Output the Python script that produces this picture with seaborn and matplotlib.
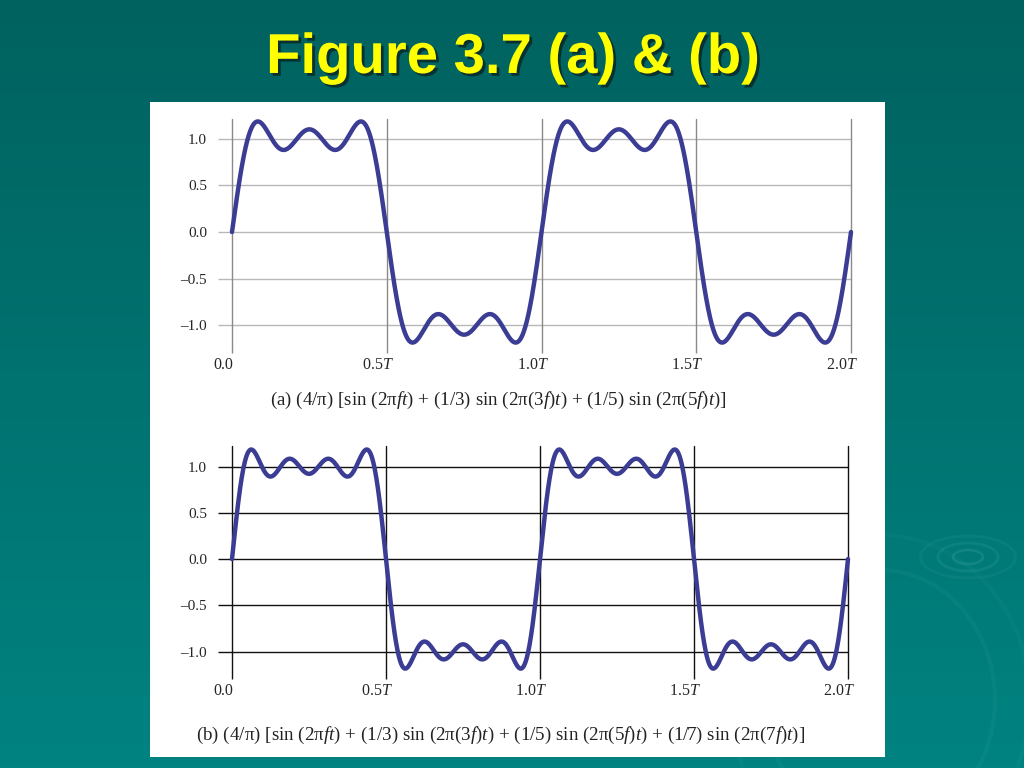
import numpy as np
import pandas as pd
import matplotlib
matplotlib.use("Agg")
import matplotlib.pyplot as plt
import matplotlib.patheffects as pe
import matplotlib.transforms as mtransforms
import seaborn as sns
from matplotlib.patches import Rectangle, Ellipse

# odd harmonics in each partial sum (caption formulas)
harmonics_a = [1, 3, 5]
harmonics_b = [1, 3, 5, 7]
x_ticks = [0.0, 0.5, 1.0, 1.5, 2.0]
x_tick_labels = ["0.0", "0.5$T$", "1.0$T$", "1.5$T$", "2.0$T$"]
y_ticks = [-1.0, -0.5, 0.0, 0.5, 1.0]
y_tick_labels = ["\u20131.0", "\u20130.5", "0.0", "0.5", "1.0"]

title = "Figure 3.7 (a) & (b)"
caption_a = ("(a) (4/\u03c0) [sin (2\u03c0$ft$) + (1/3) sin (2\u03c0(3$f$)$t$) "
             "+ (1/5) sin (2\u03c0(5$f$)$t$)]")
caption_b = ("(b) (4/\u03c0) [sin (2\u03c0$ft$) + (1/3) sin (2\u03c0(3$f$)$t$) "
             "+ (1/5) sin (2\u03c0(5$f$)$t$) + (1/7) sin (2\u03c0(7$f$)$t$)]")

t = np.linspace(0, 2, 1200)  # time in units of T, f = 1/T


def partial_sum(harmonics):
    return (4 / np.pi) * sum(np.sin(2 * np.pi * k * t) / k for k in harmonics)


sns.set_theme(style="white")
plt.rcParams["font.family"] = ["Liberation Serif", "DejaVu Serif"]
plt.rcParams["mathtext.fontset"] = "custom"
plt.rcParams["mathtext.rm"] = "Liberation Serif"
plt.rcParams["mathtext.it"] = "Liberation Serif:italic"

fig = plt.figure(figsize=(10.24, 7.68), dpi=100)

# teal slide background with faint ripples
bg = fig.add_axes([0, 0, 1, 1], zorder=-10)
grad = np.linspace(0, 1, 256).reshape(-1, 1)
cmap = matplotlib.colors.LinearSegmentedColormap.from_list("teal", ["#00625f", "#008381"])
bg.imshow(grad, aspect="auto", cmap=cmap, extent=[0, 1024, 0, 768], origin="upper")
for w, h, a in [(30, 14, 0.18), (60, 28, 0.14), (95, 42, 0.09)]:
    bg.add_patch(Ellipse((968, 768 - 557), w, h, fill=False, ec="#5cbcb8", lw=2, alpha=a))
for w, h, a in [(230, 260, 0.08), (300, 330, 0.06)]:
    bg.add_patch(Ellipse((880, 768 - 700), w, h, fill=False, ec="#5cbcb8", lw=3, alpha=a))
bg.set_xlim(0, 1024)
bg.set_ylim(0, 768)
bg.axis("off")

# white panel holding the two plots
fig.patches.append(Rectangle((150 / 1024, 11 / 768), 735 / 1024, 655 / 768,
                             transform=fig.transFigure, fc="white", ec="none", zorder=-5))

# title with drop shadow
fig.text(513 / 1024, 1 - 59 / 768, title, color="#ffff00", fontsize=40.5,
         fontweight="bold", family="Liberation Sans", ha="center", va="center",
         path_effects=[pe.withSimplePatchShadow(offset=(2, -2), shadow_rgbFace="#0c2424", alpha=0.8)])

panels = [
    (harmonics_a, [232 / 1024, 0.5501, 619 / 1024, 0.2956], "#b8b8b8", "#8a8a8a", caption_a, 498, 400),
    (harmonics_b, [232 / 1024, 0.1251, 616 / 1024, 0.2939], "#111111", "#111111", caption_b, 501, 735),
]

shift = mtransforms.ScaledTranslation(-9 / 100, 0, fig.dpi_scale_trans)

for harmonics, pos, hcol, vcol, caption, cap_x, cap_y in panels:
    ax = fig.add_axes(pos)
    ax.set_facecolor("none")
    df = pd.DataFrame({"t": t, "y": partial_sum(harmonics)})
    sns.lineplot(data=df, x="t", y="y", ax=ax, color="#3a3d93", lw=3.2, clip_on=False, zorder=5)
    ax.set_xlim(0, 2)
    ax.set_ylim(-1.22, 1.22)
    for y in y_ticks:
        ax.axhline(y, color=hcol, lw=1, zorder=1, clip_on=False)
    for x in x_ticks:
        ax.axvline(x, color=vcol, lw=1, zorder=1, clip_on=False)
    ax.set_xticks(x_ticks, x_tick_labels)
    ax.set_yticks(y_ticks, y_tick_labels)
    ax.tick_params(axis="y", direction="out", length=10, width=1, color=hcol, pad=8,
                   labelsize=11, left=True)
    ax.tick_params(axis="x", direction="out", length=5, width=1, color=vcol, pad=3,
                   labelsize=11.5, bottom=True)
    for lab in ax.get_xticklabels():
        lab.set_transform(lab.get_transform() + shift)
    for s in ax.spines.values():
        s.set_visible(False)
    ax.set_xlabel("")
    ax.set_ylabel("")
    fig.text(cap_x / 1024, 1 - cap_y / 768, caption, fontsize=13.7,
             ha="center", va="center", color="#222222")

fig.savefig("out.png", dpi=100)
